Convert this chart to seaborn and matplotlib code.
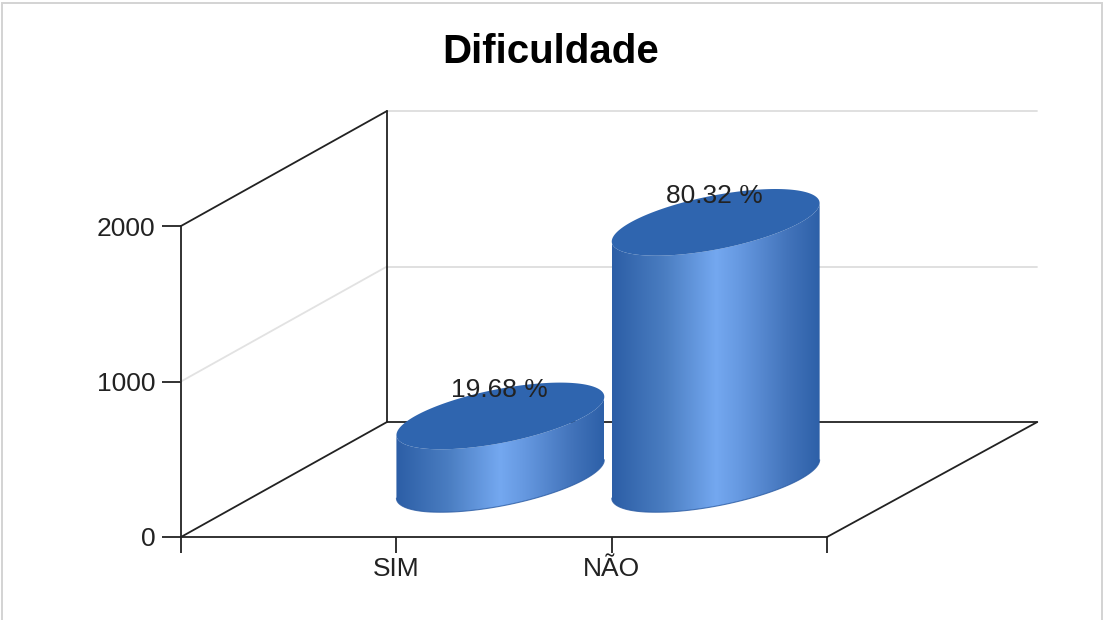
import numpy as np
import pandas as pd
import matplotlib
matplotlib.use("Agg")
import matplotlib.pyplot as plt
import seaborn as sns
from matplotlib.colors import LinearSegmentedColormap
from matplotlib.patches import Polygon, Rectangle
from matplotlib.transforms import IdentityTransform

# data
categories = ["SIM", "NÃO"]
positions = [1, 2]
values = [405, 1650]
pct_labels = ["19.68 %", "80.32 %"]
y_ticks = [0, 1000, 2000]

sns.set_theme(style="white")
plt.rcParams["font.family"] = ["Liberation Sans", "DejaVu Sans"]

W, H = 1103, 620
fig = plt.figure(figsize=(W / 100, H / 100), dpi=100, facecolor="white")
ax = fig.add_axes([181 / W, (H - 537) / H, 646 / W, 311 / H])
ax.patch.set_alpha(0)

df = pd.DataFrame({"pos": positions, "value": values})
sns.barplot(data=df, x="pos", y="value", native_scale=True, width=0.97, ax=ax)
ax.set_xlim(0, 3)
ax.set_ylim(0, 2000)
ax.set_autoscale_on(False)
ax.set_xlabel("")
ax.set_ylabel("")

# oblique projection, depth runs from the front plane to the back wall
DEPTH = np.array([206, 115])
px = IdentityTransform()


def project(x, y, d):
    x, y, d = np.broadcast_arrays(x, y, d)
    pts = ax.transData.transform(np.column_stack([x, y]).astype(float))
    return pts + np.outer(d, DEPTH)


def line3d(x, y, d, color="#222222", lw=1.3):
    p = project(x, y, d)
    ax.plot(p[:, 0], p[:, 1], color=color, lw=lw, zorder=1, transform=px, clip_on=False)


line3d([0, 3.02], [1000, 1000], [1, 1], "#dddddd")
line3d([0, 3.02], [2000, 2000], [1, 1], "#dddddd")
line3d([0, 0], [1000, 1000], [0, 1], "#e2e2e2")
line3d([0, 0], [2000, 2000], [0, 1])
line3d([0, 0], [0, 0], [0, 1])
line3d([0, 0], [0, 2000], [1, 1])
line3d([0, 3.02], [0, 0], [1, 1])
line3d([3, 3.02], [0, 0], [0, 1])

grad_cmap = LinearSegmentedColormap.from_list(
    "cyl",
    [(0, "#2c5ea6"), (0.25, "#4a7dc1"), (0.5, "#74a8f0"),
     (0.62, "#6598e0"), (0.85, "#4273ba"), (1, "#2d60a8")],
)
a, k = 0.395, 0.29
d0 = 0.505
t0 = np.arctan2(k * DEPTH[0], a * ax.transData.get_matrix()[0, 0])
t_low = np.linspace(t0 + np.pi, t0 + 2 * np.pi, 80)
t_all = np.linspace(0, 2 * np.pi, 160)

for bar, label in zip(list(ax.patches), pct_labels):
    cx = bar.get_x() + bar.get_width() / 2
    h = bar.get_height()
    bar.set_visible(False)

    base = project(cx + a * np.cos(t_low), 0, d0 + k * np.sin(t_low))
    rim = project(cx + a * np.cos(t_low), h, d0 + k * np.sin(t_low))
    outline = np.vstack([base, rim[::-1]])
    body = Polygon(outline, closed=True, transform=px, fc="none", ec="none")
    ax.add_patch(body)
    im = ax.imshow(
        np.linspace(0, 1, 256)[None, :], cmap=grad_cmap, aspect="auto", zorder=3,
        extent=(base[0, 0], base[-1, 0], outline[:, 1].min(), outline[:, 1].max()),
        transform=px,
    )
    im.set_clip_path(body)
    im.set_clip_box(fig.bbox)
    ax.plot(base[:, 0], base[:, 1], color="#2a5ba3", lw=0.8, alpha=0.8, zorder=3.1,
            transform=px, clip_on=False)

    top = project(cx + a * np.cos(t_all), h, d0 + k * np.sin(t_all))
    ax.add_patch(Polygon(top, closed=True, transform=px, fc="#2f65af", ec="none", zorder=4, clip_on=False))

    lx, ly = project(cx, h, d0)[0]
    ax.text(lx - 1, ly + 26, label, transform=px, ha="center", va="center", fontsize=19,
            color="#222222", zorder=5, clip_on=False)

ax.set_xticks([0, 1, 2, 3], ["", categories[0], categories[1], ""])
ax.set_yticks(y_ticks)
ax.tick_params(axis="x", bottom=True, length=11.5, width=1.3, color="#222222", labelsize=19,
               labelcolor="#222222", pad=3)
ax.tick_params(axis="y", left=True, length=13.5, width=1.3, color="#222222", labelsize=19,
               labelcolor="#222222", pad=5)
sns.despine(ax=ax)
for side in ("left", "bottom"):
    ax.spines[side].set_color("#222222")
    ax.spines[side].set_linewidth(1.3)

fig.text(551 / W, 1 - 52 / H, "Dificuldade", ha="center", va="center", fontsize=29,
         fontweight="bold", color="black")

# thin grey frame of the chart image
fig.add_artist(Rectangle((1.5 / W, -1), 1100.5 / W, 1 + (H - 2.5) / H, transform=fig.transFigure,
                         fc="none", ec="#d3d3d3", lw=1.4))

fig.savefig("out.png", dpi=100, facecolor="white")
